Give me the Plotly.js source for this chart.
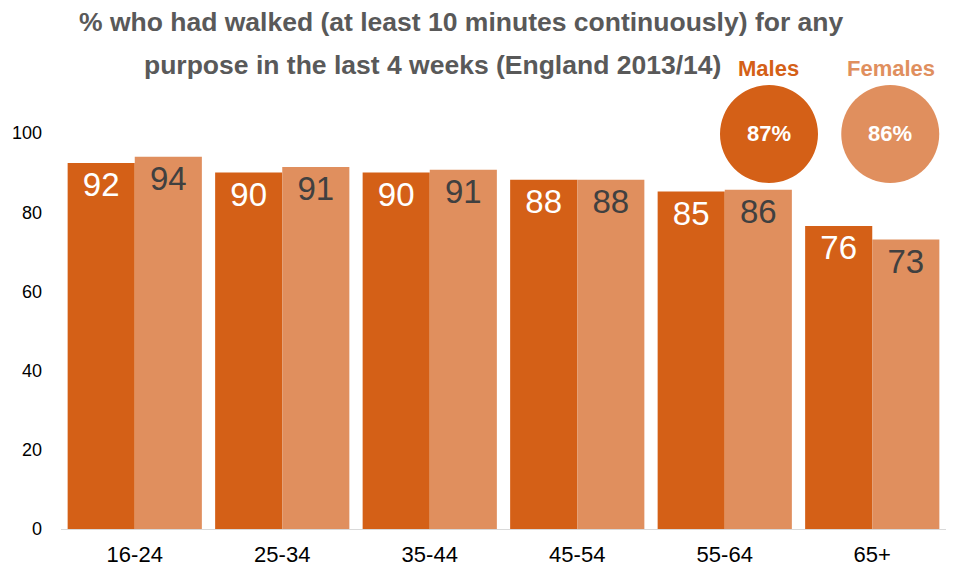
<!DOCTYPE html>
<html><head><meta charset="utf-8">
<script src="https://cdn.plot.ly/plotly-3.0.1.min.js"></script>
<style>html,body{margin:0;padding:0;background:#fff}</style>
</head><body><div id="chart" style="width:953px;height:566px"></div>
<script>
const ageGroups = ["16-24","25-34","35-44","45-54","55-64","65+"];
const males = [92.4, 90.0, 90.0, 88.2, 85.2, 76.5];
const females = [94.0, 91.4, 90.7, 88.2, 85.7, 73.1];
const maleLabels = ["92","90","90","88","85","76"];
const femaleLabels = ["94","91","91","88","86","73"];
const overallLabels = ["Males", "Females"];
const overallValues = [87, 86];

const maleColor = "#D46017";
const femaleColor = "#E08F5E";

const traces = [
  {type:"bar", name:"Males", x:ageGroups, y:males, marker:{color:maleColor},
   text:maleLabels, textposition:"inside", insidetextanchor:"end",
   textfont:{family:"Liberation Sans, Arial", size:33, color:"#ffffff"},
   constraintext:"none", hoverinfo:"x+y"},
  {type:"bar", name:"Females", x:ageGroups, y:females, marker:{color:femaleColor},
   text:femaleLabels, textposition:"inside", insidetextanchor:"end",
   textfont:{family:"Liberation Sans, Arial", size:33, color:"#404040"},
   constraintext:"none", hoverinfo:"x+y"}
];

const circX = [0.80, 0.937];
const circColors = [maleColor, femaleColor];
const shapes = circX.map((cx,i)=>({type:"circle", xref:"paper", yref:"paper",
  xsizemode:"pixel", ysizemode:"pixel", xanchor:cx, yanchor:0.9975,
  x0:-49, x1:49, y0:-49, y1:49, fillcolor:circColors[i], line:{width:0}, layer:"above"}));

const titleFont = {family:"Liberation Sans, Arial", size:26.5, color:"#595959", weight:"bold"};
const annotations = [
  {text:"% who had walked (at least 10 minutes continuously) for any", xref:"paper", yref:"paper",
   x:(461-61)/885, y:(529-22)/396, xanchor:"center", yanchor:"middle", showarrow:false, font:titleFont},
  {text:"purpose in the last 4 weeks (England 2013/14)", xref:"paper", yref:"paper",
   x:(432-61)/885, y:(529-65)/396, xanchor:"center", yanchor:"middle", showarrow:false, font:titleFont}
];
const labelX = [768, 891];
overallLabels.forEach((lab,i)=>{
  annotations.push({text:"<b>"+lab+"</b>", xref:"paper", yref:"paper", x:(labelX[i]-61)/885, y:(529-68)/396,
    xanchor:"center", yanchor:"middle", showarrow:false,
    font:{family:"Liberation Sans, Arial", size:22, color:circColors[i]}});
  annotations.push({text:"<b>"+overallValues[i]+"%</b>", xref:"paper", yref:"paper", x:circX[i], y:0.9975,
    xanchor:"center", yanchor:"middle", showarrow:false,
    font:{family:"Liberation Sans, Arial", size:22, color:"#ffffff"}});
});

const layout = {
  width:953, height:566,
  margin:{l:61, r:7, t:133, b:37, pad:0},
  paper_bgcolor:"#ffffff", plot_bgcolor:"#ffffff",
  showlegend:false,
  barmode:"group", bargap:0.09, bargroupgap:0,
  xaxis:{showgrid:false, showline:true, linecolor:"#D9D9D9", linewidth:1, ticks:"",
    tickfont:{family:"Liberation Sans, Arial", size:22, color:"#000000"}, ticklabelstandoff:6},
  yaxis:{range:[0,100], tickvals:[0,20,40,60,80,100], showgrid:false, zeroline:false, showline:false,
    ticks:"", tickfont:{family:"Liberation Sans, Arial", size:18, color:"#000000"}, ticklabelstandoff:18},
  shapes:shapes,
  annotations:annotations
};
Plotly.newPlot("chart", traces, layout, {displayModeBar:false, staticPlot:true});
</script></body></html>
